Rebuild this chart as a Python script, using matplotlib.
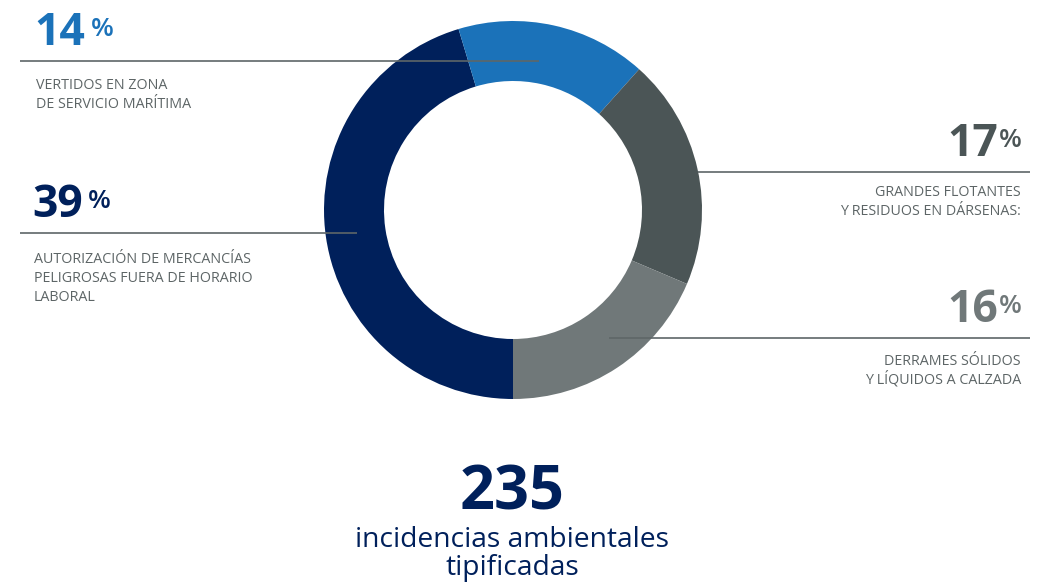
import matplotlib.pyplot as plt

plt.rcParams['font.family'] = ['Open Sans', 'DejaVu Sans']

W, H = 1045, 583

# data
categories = ["AUTORIZACIÓN DE MERCANCÍAS\nPELIGROSAS FUERA DE HORARIO\nLABORAL",
              "VERTIDOS EN ZONA\nDE SERVICIO MARÍTIMA",
              "GRANDES FLOTANTES\nY RESIDUOS EN DÁRSENAS:",
              "DERRAMES SÓLIDOS\nY LÍQUIDOS A CALZADA"]
values = [39, 14, 17, 16]
colors = ['#00205b', '#1b72b9', '#4b5556', '#707879']
total = 235
total_label = "incidencias ambientales\ntipificadas"

navy = '#00205b'
txt_gray = '#5d6566'
line_gray = '#5e6668'

fig = plt.figure(figsize=(W / 100, H / 100), dpi=100)
ax = fig.add_axes([0, 0, 1, 1])

# donut (pixel coords, y measured from top -> flip)
cx, cy, R = 513, 210, 189
ax.pie(values, colors=colors, startangle=270, counterclock=False,
       radius=R, center=(cx, H - cy),
       wedgeprops=dict(width=R - 129, edgecolor='none'))
ax.set_xlim(0, W)
ax.set_ylim(0, H)
ax.set_aspect('equal')
ax.axis('off')

# leader lines
def hline(x0, x1, y):
    ax.plot([x0, x1], [H - y, H - y], color=line_gray, lw=1.2, solid_capstyle='butt', zorder=3)

hline(20, 539, 60.5)
hline(20, 357, 232.5)
hline(698, 1030, 171.5)
hline(609, 1030, 337.5)

def label_lines(x, y_first, label, ha):
    for i, line in enumerate(label.split('\n')):
        ax.text(x, H - (y_first + i * 19), line, fontsize=10.3, color=txt_gray,
                ha=ha, va='baseline')

# left-side labels
def left_block(x, y_num, num, col, label, y_lab):
    t = ax.text(x, H - y_num, str(num), fontsize=32, fontweight='bold', color=col,
                ha='left', va='baseline')
    ax.annotate('%', xy=(1, H - y_num + 9), xycoords=(t, 'data'), xytext=(4, 0),
                textcoords='offset points', fontsize=19, fontweight='semibold', color=col,
                ha='left', va='baseline')
    label_lines(x + 2, y_lab, label, 'left')

def right_block(x, y_num, num, col, label, y_lab):
    p = ax.text(x, H - y_num + 9, '%', fontsize=19, fontweight='semibold', color=col,
                ha='right', va='baseline')
    ax.annotate(str(num), xy=(0, H - y_num), xycoords=(p, 'data'), xytext=(-1, 0),
                textcoords='offset points', fontsize=32, fontweight='bold', color=col,
                ha='right', va='baseline')
    label_lines(x - 1, y_lab, label, 'right')

left_block(34, 45, values[1], colors[1], categories[1], 89)
left_block(32, 217, values[0], colors[0], categories[0], 263)
right_block(1022, 156, values[2], colors[2], categories[2], 196)
right_block(1022, 322, values[3], colors[3], categories[3], 365)

# total
ax.text(512, H - 510, str(total), fontsize=44, fontweight='bold', color=navy,
        ha='center', va='baseline')
ax.text(512, H - 547, total_label.split('\n')[0], fontsize=20.3, color=navy,
        ha='center', va='baseline')
ax.text(512, H - 575, total_label.split('\n')[1], fontsize=20.3, color=navy,
        ha='center', va='baseline')

fig.savefig('out.png', dpi=100)
